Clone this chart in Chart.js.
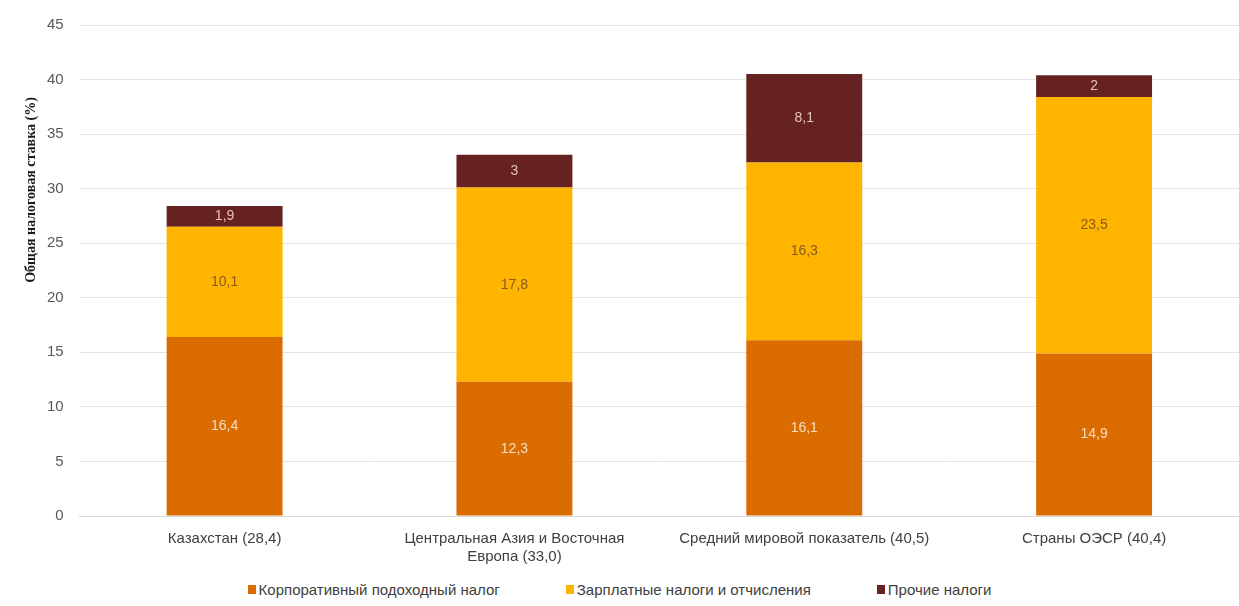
<!DOCTYPE html>
<html>
<head>
<meta charset="utf-8">
<script src="https://cdn.jsdelivr.net/npm/chart.js@4"></script>
<style>
  html, body { margin: 0; padding: 0; background: #fff; }
  #wrap { position: relative; width: 1239px; height: 572px; }
  #legend { width: 1239px; display: flex; justify-content: center; gap: 66px; margin-top: 9px;
            font-family: Arial, "Liberation Sans", sans-serif; font-size: 15px; color: #404040; }
  #legend span.item { display: inline-flex; align-items: center; }
  #legend span.box { display: inline-block; width: 8px; height: 9px; margin-right: 3px; }
</style>
</head>
<body>
<div id="wrap"><canvas id="taxChart"></canvas></div>
<div id="legend"></div>
<script>
const categories = [
    'Казахстан (28,4)',
    ['Центральная Азия и Восточная', 'Европа (33,0)'],
    'Средний мировой показатель (40,5)',
    'Страны ОЭСР (40,4)'
];
const seriesNames = ['Корпоративный подоходный налог', 'Зарплатные налоги и отчисления', 'Прочие налоги'];
const corporateTax = [16.4, 12.3, 16.1, 14.9];
const payrollTax = [10.1, 17.8, 16.3, 23.5];
const otherTax = [1.9, 3, 8.1, 2];
const yTicks = [0, 5, 10, 15, 20, 25, 30, 35, 40, 45];

const barColors = ['#db6d00', '#ffb400', '#652220'];
const labelColors = ['#f6dcc2', '#8a5a1c', '#e6c3bb'];

const valueLabels = {
    id: 'valueLabels',
    afterDatasetsDraw(chart) {
        const ctx = chart.ctx;
        ctx.save();
        ctx.font = '14px Arial, "Liberation Sans", sans-serif';
        ctx.textAlign = 'center';
        ctx.textBaseline = 'middle';
        chart.data.datasets.forEach(function (ds, i) {
            const meta = chart.getDatasetMeta(i);
            meta.data.forEach(function (bar, j) {
                const v = ds.data[j];
                const mid = (bar.y + bar.base) / 2;
                ctx.fillStyle = labelColors[i];
                ctx.fillText(String(v).replace('.', ','), bar.x, mid);
            });
        });
        ctx.restore();
    }
};

const axisTitle = {
    id: 'axisTitle',
    afterDraw(chart) {
        const ctx = chart.ctx;
        ctx.save();
        ctx.translate(31, 190);
        ctx.rotate(-Math.PI / 2);
        ctx.font = 'bold 14px "Liberation Serif", "DejaVu Serif", serif';
        ctx.fillStyle = '#1a1a1a';
        ctx.textAlign = 'center';
        ctx.textBaseline = 'middle';
        ctx.fillText('Общая налоговая ставка (%)', 0, 0);
        ctx.restore();
    }
};

const ctx = document.getElementById('taxChart').getContext('2d');
new Chart(ctx, {
    type: 'bar',
    data: {
        labels: categories,
        datasets: [
            { label: seriesNames[0], data: corporateTax, backgroundColor: barColors[0] },
            { label: seriesNames[1], data: payrollTax, backgroundColor: barColors[1] },
            { label: seriesNames[2], data: otherTax, backgroundColor: barColors[2] }
        ]
    },
    options: {
        responsive: true,
        maintainAspectRatio: false,
        animation: false,
        layout: { padding: { left: 31, top: 6, right: 0, bottom: 0 } },
        datasets: { bar: { barPercentage: 0.4, categoryPercentage: 1.0 } },
        plugins: {
            legend: { display: false },
            tooltip: { enabled: false }
        },
        scales: {
            x: {
                stacked: true,
                grid: { display: false },
                border: { display: true, color: '#d9d9d9' },
                ticks: {
                    color: '#404040',
                    font: { family: 'Arial, "Liberation Sans", sans-serif', size: 15 },
                    maxRotation: 0,
                    autoSkip: false,
                    padding: 6
                }
            },
            y: {
                stacked: true,
                min: 0,
                max: 45,
                afterBuildTicks(axis) {
                    axis.ticks = yTicks.map(function (v) { return { value: v }; });
                },
                grid: { color: '#e4e4e4', drawTicks: false },
                border: { display: false },
                ticks: {
                    color: '#595959',
                    font: { family: 'Arial, "Liberation Sans", sans-serif', size: 15 },
                    padding: 16
                }
            }
        }
    },
    plugins: [valueLabels, axisTitle]
});

const legend = document.getElementById('legend');
seriesNames.forEach(function (name, i) {
    const item = document.createElement('span');
    item.className = 'item';
    const box = document.createElement('span');
    box.className = 'box';
    box.style.background = barColors[i];
    item.appendChild(box);
    item.appendChild(document.createTextNode(name));
    legend.appendChild(item);
});
</script>
</body>
</html>
